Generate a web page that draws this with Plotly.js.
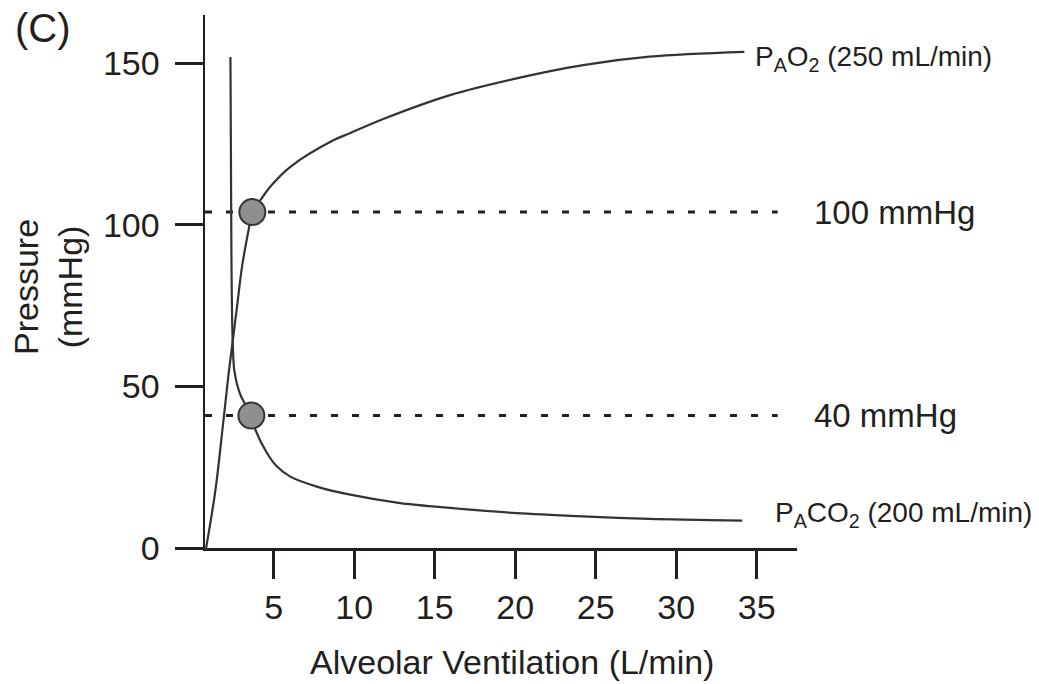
<!DOCTYPE html>
<html>
<head>
<meta charset="utf-8">
<script src="https://cdn.plot.ly/plotly-3.0.1.min.js"></script>
<style>
  html, body { margin: 0; padding: 0; background: #ffffff; }
  #chart { width: 1039px; height: 684px; }
</style>
</head>
<body>
<div id="chart"></div>
<script>
// ---- Data ----
// Alveolar O2 partial pressure curve (O2 consumption 250 mL/min)
const ventilationO2 = [0.8, 1.38, 1.79, 2.20, 2.41, 2.72, 3.03, 3.44, 3.67, 4.17, 4.9, 6.03, 8.7, 9.73, 11.8, 15.95, 20.08, 24.21, 28.34, 34.23];
const pressureO2    = [0, 18.0, 35.6, 54.1, 62.4, 74.7, 87.1, 98.5, 104, 107.7, 112.5, 118, 126.2, 128.4, 132.8, 140.2, 145.4, 149.5, 152.1, 153.6];

// Alveolar CO2 partial pressure curve (CO2 production 200 mL/min)
const ventilationCO2 = [2.31, 2.34, 2.37, 2.43, 2.55, 2.93, 3.61, 3.86, 4.58, 5.20, 6.03, 7.68, 9.75, 12.85, 15.95, 20.08, 24.19, 28.34, 34.1];
const pressureCO2    = [152, 123, 92, 67.5, 55, 47.4, 41, 36.6, 29.4, 25.2, 22.1, 19.0, 16.5, 13.9, 12.4, 10.8, 9.8, 9.0, 8.5];

// Reference (dotted) pressure levels and their operating points
const refLabels     = ['100 mmHg', '40 mmHg'];
const refPressures  = [104, 41];
const refLineStart  = 0.73;
const refLineEnd    = 36.3;
const pointVent     = [3.67, 3.61];
const pointPressure = [104, 41];

// Axis ticks
const xTicks = [5, 10, 15, 20, 25, 30, 35];
const yTicks = [0, 50, 100, 150];
const xRange = [0.73, 37.5];
const yRange = [0, 165];

// Texts
const xTitle = 'Alveolar Ventilation (L/min)';
const yTitle = 'Pressure<br>(mmHg)';
const panelLabel = '(C)';
const curveLabels = ['P<sub>A</sub>O<sub>2</sub> (250 mL/min)', 'P<sub>A</sub>CO<sub>2</sub> (200 mL/min)'];
const curveLabelY = [151.5, 10.3];

// ---- Styling ----
const INK = '#231f20';
const FONT = 'Liberation Sans, Arial, Helvetica, sans-serif';

const traces = [];

refPressures.forEach(function (p) {
  traces.push({
    x: [refLineStart, refLineEnd], y: [p, p],
    mode: 'lines', type: 'scatter', hoverinfo: 'skip',
    line: { color: INK, width: 3, dash: '7px,14px' },
    cliponaxis: false
  });
});

traces.push({
  x: ventilationO2, y: pressureO2, mode: 'lines', type: 'scatter',
  line: { color: '#333333', width: 2.2, shape: 'spline', smoothing: 1 },
  cliponaxis: false
});
traces.push({
  x: ventilationCO2, y: pressureCO2, mode: 'lines', type: 'scatter',
  line: { color: '#333333', width: 2.2, shape: 'spline', smoothing: 0.8 },
  cliponaxis: false
});
traces.push({
  x: pointVent, y: pointPressure, mode: 'markers', type: 'scatter',
  marker: { size: 26, color: '#8f8f8f', line: { color: '#333333', width: 2 } },
  cliponaxis: false
});

const annotations = [];
refLabels.forEach(function (t, i) {
  annotations.push({
    text: t, xref: 'paper', yref: 'y', x: 1.025, y: refPressures[i],
    xanchor: 'left', yanchor: 'middle', showarrow: false,
    font: { family: FONT, size: 33, color: INK }
  });
});
annotations.push({
  text: curveLabels[0], xref: 'paper', yref: 'y', x: 0.9257, y: curveLabelY[0],
  xanchor: 'left', yanchor: 'middle', showarrow: false,
  font: { family: FONT, size: 28, color: INK }
});
annotations.push({
  text: curveLabels[1], xref: 'paper', yref: 'y', x: 0.9595, y: curveLabelY[1],
  xanchor: 'left', yanchor: 'middle', showarrow: false,
  font: { family: FONT, size: 28, color: INK }
});
annotations.push({
  text: panelLabel, xref: 'paper', yref: 'paper', x: -0.325, y: 1.02,
  xanchor: 'left', yanchor: 'top', showarrow: false,
  font: { family: FONT, size: 40, color: INK }
});
// axis titles
annotations.push({
  text: xTitle, xref: 'paper', yref: 'paper', x: 0.5186, y: -0.2139,
  xanchor: 'center', yanchor: 'middle', showarrow: false,
  font: { family: FONT, size: 34, color: INK }
});
annotations.push({
  text: yTitle, xref: 'paper', yref: 'paper', x: -0.2652, y: 0.4897,
  xanchor: 'center', yanchor: 'middle', showarrow: false, textangle: -90,
  font: { family: FONT, size: 34, color: INK }
});

const layout = {
  width: 1039, height: 684,
  margin: { l: 205, r: 242, t: 15, b: 136 },
  paper_bgcolor: '#ffffff', plot_bgcolor: '#ffffff',
  showlegend: false,
  font: { family: FONT, color: INK },
  xaxis: {
    range: xRange, tickmode: 'array', tickvals: xTicks, ticktext: xTicks.map(String),
    showgrid: false, zeroline: false, showline: true, linecolor: INK, linewidth: 2.5,
    ticks: 'outside', ticklen: 28, tickwidth: 3, tickcolor: INK,
    tickfont: { family: FONT, size: 34, color: INK }
  },
  yaxis: {
    range: yRange, tickmode: 'array', tickvals: yTicks, ticktext: yTicks.map(String),
    showgrid: false, zeroline: false, showline: true, linecolor: INK, linewidth: 2.5,
    ticks: 'outside', ticklen: 28, tickwidth: 3, tickcolor: INK, ticklabelstandoff: 8,
    tickfont: { family: FONT, size: 34, color: INK }
  },
  annotations: annotations
};

Plotly.newPlot('chart', traces, layout, { staticPlot: true, displayModeBar: false });
</script>
</body>
</html>
